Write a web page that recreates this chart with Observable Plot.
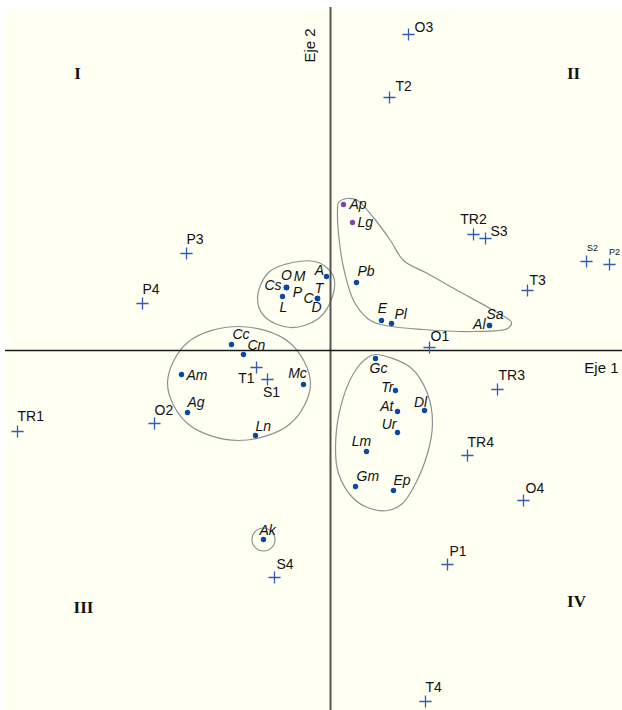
<!DOCTYPE html>
<html><head><meta charset="utf-8">
<script src="https://cdn.jsdelivr.net/npm/d3@7"></script>
<script src="https://cdn.jsdelivr.net/npm/@observablehq/plot@0.6"></script>
<style>body{margin:0;background:#fff;} #chart svg{display:block}</style>
</head><body><div id="chart"></div>
<script>
// ---------- DATA (ordination scores) ----------
const speciesNames = ["Ap","Lg","Pb","A","Cs","O","M","L","P","C","T","D","E","Pl","Sa","Al","Cc","Cn","Am","Ag","Mc","Ln","Gc","Tr","At","Dl","Ur","Lm","Gm","Ep","Ak"];
const speciesX = [0.13,0.22,0.26,-0.04,-0.44,-0.44,-0.44,-0.48,-0.44,-0.13,-0.13,-0.13,0.51,0.61,1.59,1.59,-0.99,-0.87,-1.49,-1.43,-0.27,-0.75,0.45,0.65,0.67,0.94,0.67,0.36,0.25,0.63,-0.67];
const speciesY = [1.46,1.28,0.68,0.74,0.63,0.63,0.63,0.54,0.63,0.52,0.52,0.52,0.30,0.27,0.25,0.25,0.06,-0.04,-0.24,-0.62,-0.34,-0.85,-0.08,-0.40,-0.61,-0.60,-0.82,-1.01,-1.36,-1.40,-1.89];
const purpleSpecies = ["Ap","Lg"];
const isolatedSpecies = ["Ak"];

const siteNames = ["O3","T2","TR2","S3","S2","P2","T3","O1","TR3","TR4","O4","P1","T4","S4","P3","P4","O2","TR1","T1","S1"];
const siteX = [0.78,0.59,1.43,1.55,2.56,2.79,1.97,0.99,1.67,1.37,1.93,1.17,0.95,-0.56,-1.44,-1.88,-1.76,-3.13,-0.74,-0.63];
const siteY = [3.16,2.53,1.16,1.12,0.89,0.86,0.60,0.03,-0.39,-1.05,-1.50,-2.14,-3.51,-2.27,0.97,0.47,-0.73,-0.81,-0.17,-0.29];
const smallSites = ["S2","P2"];

// group outlines (vertices)
const outlineGroupAp = [[0.08,1.48],[0.17,1.52],[0.27,1.50],[0.43,1.33],[0.60,1.10],[0.73,0.90],[0.97,0.77],[1.27,0.60],[1.63,0.40],[1.81,0.28],[1.77,0.22],[1.43,0.19],[0.93,0.21],[0.50,0.26],[0.37,0.32],[0.23,0.50],[0.13,0.83],[0.08,1.17],[0.07,1.40]];
const outlineGroupCs = [[-0.73,0.53],[-0.62,0.78],[-0.38,0.88],[-0.12,0.88],[0.03,0.74],[0.02,0.54],[-0.12,0.32],[-0.40,0.23],[-0.66,0.34]];
const outlineGroupCc = [[-0.92,0.24],[-0.41,0.08],[-0.20,-0.33],[-0.40,-0.73],[-0.92,-0.90],[-1.43,-0.73],[-1.63,-0.33],[-1.43,0.08]];
const outlineGroupGc = [[0.45,-0.04],[0.80,-0.17],[0.97,-0.43],[1.02,-0.73],[0.97,-1.03],[0.83,-1.37],[0.72,-1.53],[0.57,-1.60],[0.37,-1.57],[0.22,-1.47],[0.08,-1.23],[0.05,-0.97],[0.10,-0.57],[0.23,-0.23],[0.37,-0.07]];

const quadrantLabels = ["I","II","III","IV"];
const axisTitles = ["Eje 1","Eje 2"];

// ---------- LAYOUT (label placement relative to its point) ----------
const speciesLabelPlace = {
  Ap:["start",6,0], Lg:["start",5,0], Pb:["start",1,-11], A:["middle",-7,-6],
  Cs:["end",-5,-2], O:["middle",0,-12], M:["middle",13,-11], L:["middle",1,11],
  P:["middle",11,5], C:["middle",-9,0], T:["middle",1.5,-10], D:["middle",-1,9],
  E:["middle",1,-12], Pl:["start",3,-9], Sa:["start",-3,-11], Al:["end",-4,-1],
  Cc:["start",1,-10], Cn:["start",4,-9], Am:["start",5,1], Ag:["start",0,-10],
  Mc:["middle",-6,-11], Ln:["start",0,-9], Gc:["middle",3,10], Tr:["end",-2,-3],
  At:["end",-4,-5], Dl:["middle",-4,-8], Ur:["end",-1,-8], Lm:["middle",-5,-10],
  Gm:["start",1,-10], Ep:["start",0,-10], Ak:["start",-4,-9]
};
const siteLabelPlace = {
  O3:["start",6,-7], T2:["start",6,-11], TR2:["middle",0,-15], S3:["start",5,-7],
  S2:["middle",6,-13], P2:["middle",5,-12], T3:["start",2,-10], O1:["start",1,-11],
  TR3:["start",1,-14], TR4:["start",0,-13], O4:["start",2,-12], P1:["start",2,-13],
  T4:["start",0,-14], S4:["start",2,-13], P3:["start",0,-14], P4:["start",0,-14],
  O2:["start",0,-13], TR1:["start",0,-15], T1:["end",-2,11], S1:["middle",4,13]
};

const species = speciesNames.map((n,i)=>({name:n, x:speciesX[i], y:speciesY[i], purple: purpleSpecies.includes(n)}));
const sites = siteNames.map((n,i)=>({name:n, x:siteX[i], y:siteY[i]}));
const outlines = [];
[["Ap",outlineGroupAp],["Cs",outlineGroupCs],["Cc",outlineGroupCc],["Gc",outlineGroupGc]].forEach(([g,arr])=>{
  arr.forEach(([x,y])=>outlines.push({group:g,x,y}));
});

const FONT = "'Liberation Sans', Arial, sans-serif";
const marks = [
  Plot.frame({fill:"#fffff2", stroke:null}),
  Plot.line(outlines, {x:"x", y:"y", z:"group", curve:"catmull-rom-closed", stroke:"#8a9292", strokeWidth:1.2}),
  Plot.dot(species.filter(d=>isolatedSpecies.includes(d.name)), {x:"x", y:"y", r:11.5, fill:"none", stroke:"#8a9292", strokeWidth:1.2}),
  Plot.ruleX([0], {stroke:"#555", strokeWidth:2}),
  Plot.ruleY([0], {stroke:"#1a1a1a", strokeWidth:1.5}),
  Plot.dot(species, {x:"x", y:"y", r:2.7, fill:d=>d.purple?"#7b4aa6":"#0b47a6", stroke:"none"}),
  Plot.dot(sites, {x:"x", y:"y", symbol:"plus", r:4, stroke:"#2f5cb8", strokeWidth:1.3})
];
species.forEach(d=>{
  const [a,dx,dy] = speciesLabelPlace[d.name];
  marks.push(Plot.text([d], {x:"x", y:"y", text:"name", textAnchor:a, dx, dy, lineAnchor:"middle", fontSize:14, fontStyle:"italic", fill:"#111", fontFamily:FONT}));
});
sites.forEach(d=>{
  const [a,dx,dy] = siteLabelPlace[d.name];
  const small = smallSites.includes(d.name);
  marks.push(Plot.text([d], {x:"x", y:"y", text:"name", textAnchor:a, dx, dy, lineAnchor:"middle", fontSize: small?9:14, fill:"#111", fontFamily:FONT}));
});
const quadPlace = [["top-left",72,66],["top-right",-49,66],["bottom-left",78,-103],["bottom-right",-46,-109]];
quadrantLabels.forEach((q,i)=>{
  const [fa,dx,dy] = quadPlace[i];
  marks.push(Plot.text([q], {text:d=>d, frameAnchor:fa, dx, dy, textAnchor:"middle", lineAnchor:"middle", fontSize:17, fontWeight:"bold", fontFamily:"'Liberation Serif', 'Times New Roman', serif", fill:"#111"}));
});
marks.push(Plot.text([axisTitles[0]], {text:d=>d, y:()=>0, frameAnchor:"right", dx:-4, dy:18, textAnchor:"end", lineAnchor:"middle", fontSize:15, fontFamily:FONT, fill:"#111"}));
marks.push(Plot.text([axisTitles[1]], {text:d=>d, x:()=>0, frameAnchor:"top", dx:-20, dy:38, rotate:-90, textAnchor:"middle", lineAnchor:"middle", fontSize:15, fontFamily:FONT, fill:"#111"}));

const chart = Plot.plot({
  width:622, height:710,
  marginLeft:5, marginTop:7, marginRight:0, marginBottom:0,
  x:{axis:null, domain:[-3.25,2.92]},
  y:{axis:null, domain:[-3.60,3.43]},
  style:{background:"#fff", fontFamily:FONT},
  marks
});
document.getElementById("chart").appendChild(chart);
</script>
</body></html>
